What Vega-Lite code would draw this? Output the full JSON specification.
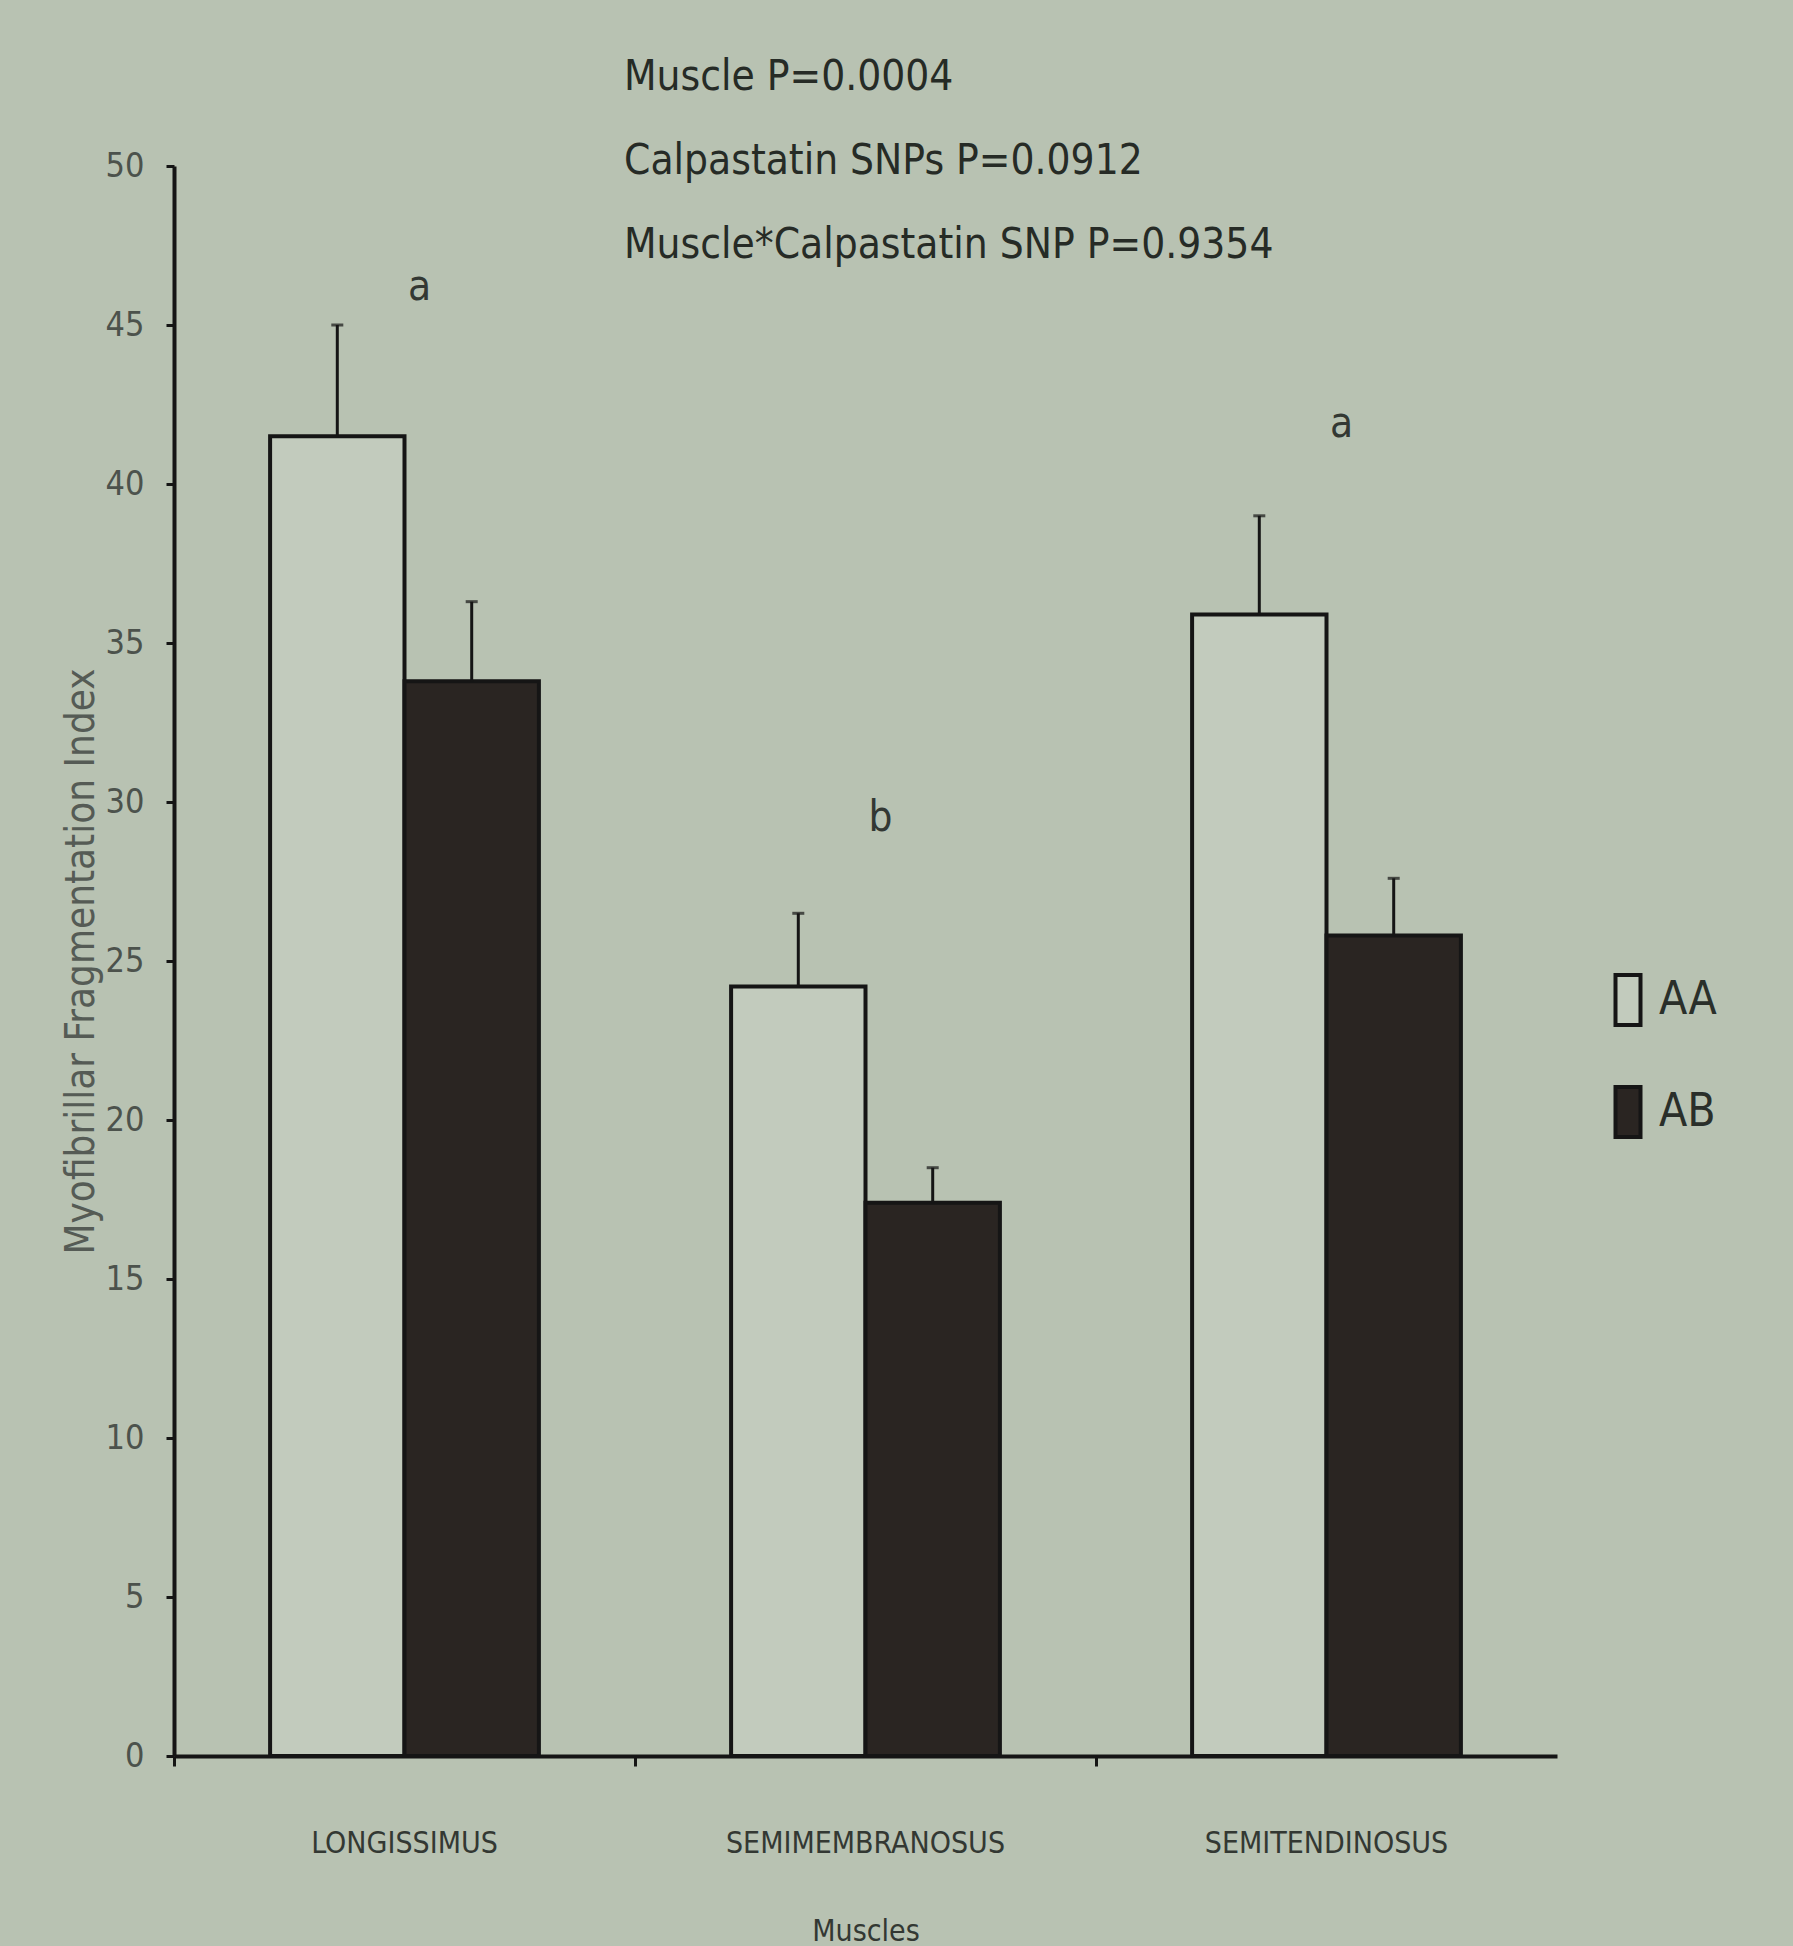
{
  "$schema": "https://vega.github.io/schema/vega-lite/v6.json",
  "width": 1383,
  "height": 1590,
  "autosize": {"type": "none"},
  "padding": {"left": 174, "top": 166, "right": 236, "bottom": 190},
  "background": "#b8c2b2",
  "config": {"view": {"stroke": null}, "font": "DejaVu Sans Condensed"},
  "title": {
    "text": ["Muscle P=0.0004", "Calpastatin SNPs P=0.0912", "Muscle*Calpastatin SNP P=0.9354"],
    "anchor": "start",
    "frame": "group",
    "dx": 450,
    "dy": 118,
    "fontSize": 42,
    "fontWeight": "normal",
    "color": "#262b26",
    "lineHeight": 84,
    "baseline": "top",
    "offset": 0
  },
  "datasets": {
    "bars": [
      {"muscle": "LONGISSIMUS", "geno": "AA", "mean": 41.5, "upper": 45.0},
      {"muscle": "LONGISSIMUS", "geno": "AB", "mean": 33.8, "upper": 36.3},
      {"muscle": "SEMIMEMBRANOSUS", "geno": "AA", "mean": 24.2, "upper": 26.5},
      {"muscle": "SEMIMEMBRANOSUS", "geno": "AB", "mean": 17.4, "upper": 18.5},
      {"muscle": "SEMITENDINOSUS", "geno": "AA", "mean": 35.9, "upper": 39.0},
      {"muscle": "SEMITENDINOSUS", "geno": "AB", "mean": 25.8, "upper": 27.6}
    ],
    "letters": [
      {"muscle": "LONGISSIMUS", "letter": "a", "pos": 46.2},
      {"muscle": "SEMIMEMBRANOSUS", "letter": "b", "pos": 29.5},
      {"muscle": "SEMITENDINOSUS", "letter": "a", "pos": 41.9}
    ]
  },
  "layer": [
    {
      "data": {"name": "bars"},
      "mark": {"type": "bar", "stroke": "#151515", "strokeWidth": 4},
      "encoding": {
        "x": {
          "field": "muscle", "type": "nominal", "sort": null,
          "scale": {"paddingInner": 0, "paddingOuter": 0},
          "axis": {
            "title": "Muscles", "labelAngle": 0, "bandPosition": 0, "labelLimit": 0,
            "domainColor": "#151515", "domainWidth": 4,
            "tickColor": "#151515", "tickWidth": 3, "tickSize": 10,
            "labelFontSize": 30, "labelColor": "#333833", "labelPadding": 62,
            "titleFontSize": 30, "titleFontWeight": "normal", "titleColor": "#333833", "titlePadding": 58
          }
        },
        "xOffset": {"field": "geno", "type": "nominal", "scale": {"paddingOuter": 0.715, "paddingInner": 0}},
        "y": {
          "field": "mean", "type": "quantitative",
          "scale": {"domain": [0, 50], "nice": false},
          "axis": {
            "title": "Myofibrillar Fragmentation Index",
            "values": [0, 5, 10, 15, 20, 25, 30, 35, 40, 45, 50],
            "grid": false,
            "domainColor": "#151515", "domainWidth": 4,
            "tickColor": "#151515", "tickWidth": 3, "tickSize": 8,
            "labelFontSize": 34, "labelColor": "#4c524c", "labelPadding": 22,
            "titleFontSize": 40, "titleFontWeight": "normal", "titleColor": "#555b55", "titlePadding": 4
          }
        },
        "fill": {
          "field": "geno", "type": "nominal",
          "scale": {"domain": ["AA", "AB"], "range": ["#c2cbbd", "#2a2522"]},
          "legend": {
            "title": null, "orient": "none", "legendX": 1427, "legendY": 807,
            "symbolType": "M-0.5,-1H0.5V1H-0.5Z", "symbolSize": 2500,
            "symbolStrokeColor": "#151515", "symbolStrokeWidth": 4,
            "labelFontSize": 46, "labelColor": "#2a2f2a", "labelOffset": 4,
            "rowPadding": 46, "padding": 0
          }
        }
      }
    },
    {
      "data": {"name": "bars"},
      "mark": {"type": "rule", "color": "#151515", "strokeWidth": 3},
      "encoding": {
        "x": {"field": "muscle", "type": "nominal", "sort": null},
        "xOffset": {"field": "geno", "type": "nominal"},
        "y": {"field": "mean", "type": "quantitative"},
        "y2": {"field": "upper"}
      }
    },
    {
      "data": {"name": "bars"},
      "mark": {"type": "tick", "color": "#151515", "size": 12, "thickness": 3},
      "encoding": {
        "x": {"field": "muscle", "type": "nominal", "sort": null},
        "xOffset": {"field": "geno", "type": "nominal"},
        "y": {"field": "upper", "type": "quantitative"}
      }
    },
    {
      "data": {"name": "letters"},
      "mark": {"type": "text", "fontSize": 42, "color": "#333833", "dx": 15, "baseline": "middle"},
      "encoding": {
        "x": {"field": "muscle", "type": "nominal", "sort": null},
        "y": {"field": "pos", "type": "quantitative"},
        "text": {"field": "letter"}
      }
    }
  ]
}
